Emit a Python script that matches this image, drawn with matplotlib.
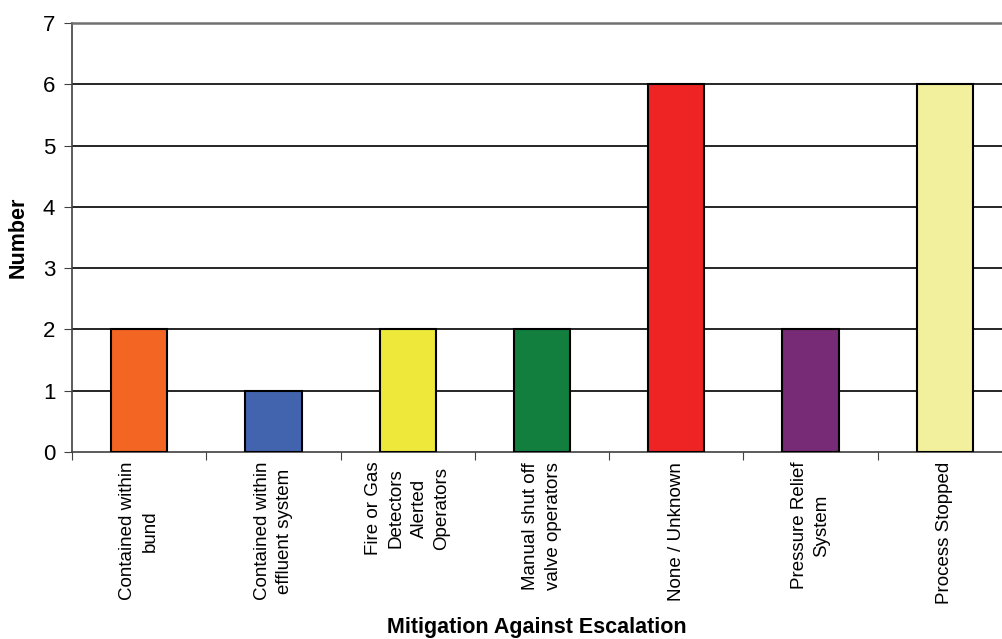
import matplotlib
matplotlib.use('Agg')
import matplotlib.pyplot as plt
import numpy as np

# Mitigation categories and incident counts
categories = ['Contained within\nbund', 'Contained within\neffluent system',
              'Fire or Gas\nDetectors\nAlerted\nOperators', 'Manual shut off\nvalve operators',
              'None / Unknown', 'Pressure Relief\nSystem', 'Process Stopped']
counts = [2, 1, 2, 2, 6, 2, 6]
colors = ['#F26522', '#4264AE', '#EEE83A', '#127F3F', '#EE2424', '#772A75', '#F2F09C']

plt.rcParams['font.family'] = ['Liberation Sans', 'DejaVu Sans']

fig = plt.figure(figsize=(10.02, 6.39), dpi=100)
ax = fig.add_axes([72 / 1002, 1 - 452 / 639, 940 / 1002, (452 - 23) / 639])

x = np.arange(len(categories))
ax.bar(x, counts, width=0.42, color=colors, edgecolor='black', linewidth=1.5, zorder=3)

ax.set_xlim(-0.5, len(categories) - 0.5)
ax.set_ylim(0, 7)
ax.set_yticks(range(0, 8))
for y in range(1, 7):
    ax.axhline(y, color='black', linewidth=1.2, zorder=1)

ax.spines['right'].set_visible(False)
ax.spines['top'].set_color('#707070')
ax.spines['top'].set_linewidth(1.8)
ax.spines['left'].set_color('#404040')
ax.spines['left'].set_linewidth(1.2)
ax.spines['bottom'].set_color('#404040')
ax.spines['bottom'].set_linewidth(1.2)

# category boundaries get the tick marks, labels sit at the bar centres
ax.set_xticks(np.arange(-0.5, len(categories) + 0.5, 1.0))
ax.set_xticklabels([])
ax.tick_params(axis='x', direction='out', length=6, color='#404040')
ax.tick_params(axis='y', direction='out', length=6, color='#404040', labelsize=16, pad=6)

for xi, label in zip(x, categories):
    ax.text(xi, -0.16, label, rotation=90, ha='center', va='top', multialignment='center',
            fontsize=13.5, linespacing=1.45, transform=ax.transData, clip_on=False)

ax.set_ylabel('Number', fontsize=15.5, fontweight='bold', labelpad=10)
fig.text(537 / 1002, 1 - 628 / 639, 'Mitigation Against Escalation', ha='center', va='center',
         fontsize=15.5, fontweight='bold')

fig.savefig('out.png', dpi=100)
